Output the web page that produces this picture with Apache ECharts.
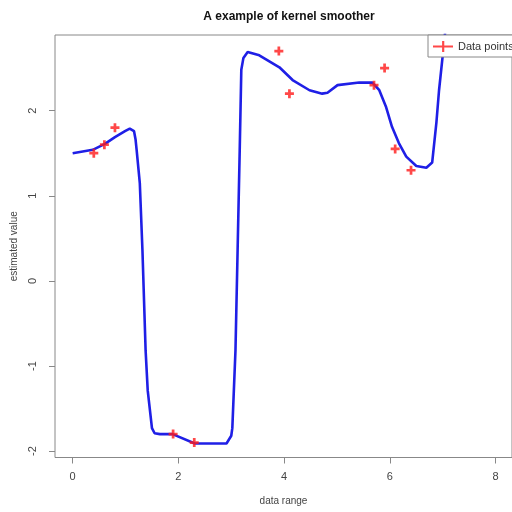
<!DOCTYPE html>
<html>
<head>
<meta charset="utf-8" />
<title>kernel smoother</title>
<script src="https://cdn.jsdelivr.net/npm/echarts@6/dist/echarts.min.js"></script>
<style>
  html, body { margin: 0; padding: 0; background: #fff; }
  #chart { width: 512px; height: 512px; }
</style>
</head>
<body>
<div id="chart"></div>
<script>
// smoothed curve
var curveX = [0, 0.38, 0.61, 0.80, 0.99, 1.08, 1.16, 1.19, 1.21, 1.27, 1.32, 1.38, 1.42, 1.50, 1.55, 1.65, 1.89,
  2.31, 2.91, 3.00, 3.02, 3.08, 3.12, 3.16, 3.19, 3.23, 3.31, 3.53, 3.91, 4.16, 4.48, 4.72, 4.82,
  5.01, 5.42, 5.67, 5.80, 5.93, 6.04, 6.17, 6.31, 6.50, 6.69, 6.80, 6.88, 6.93, 6.99, 7.05];
var curveY = [1.50, 1.54, 1.61, 1.69, 1.76, 1.79, 1.76, 1.66, 1.54, 1.15, 0.36, -0.82, -1.29, -1.73, -1.79, -1.80, -1.80,
  -1.91, -1.91, -1.82, -1.73, -0.81, 0.36, 1.54, 2.48, 2.62, 2.69, 2.65, 2.51, 2.36, 2.24, 2.20, 2.21,
  2.30, 2.33, 2.33, 2.24, 2.04, 1.81, 1.62, 1.46, 1.35, 1.33, 1.39, 1.86, 2.24, 2.59, 2.95];

// observed data points
var pointX = [0.4, 0.6, 0.8, 1.9, 2.3, 3.9, 4.1, 5.7, 5.9, 6.1, 6.4];
var pointY = [1.5, 1.6, 1.8, -1.8, -1.9, 2.7, 2.2, 2.3, 2.5, 1.55, 1.3];

var xTicks = [0, 2, 4, 6, 8];
var yTicks = [-2, -1, 0, 1, 2];

var curve = curveX.map(function (x, i) { return [x, curveY[i]]; });
var points = pointX.map(function (x, i) { return [x, pointY[i]]; });

var crossPath = 'path://M3,0h2.6v8.6h-2.6z M0,3h8.6v2.6h-8.6z';
var legendIcon = 'path://M0,7h22v2h-22z M10,2h2.4v12h-2.4z';

var myChart = echarts.init(document.getElementById('chart'));
var option = {
  animation: false,
  textStyle: { fontFamily: 'Liberation Sans, Arial, sans-serif' },
  title: {
    text: 'A example of kernel smoother',
    left: 284,
    textAlign: 'center',
    top: 6,
    textStyle: { fontSize: 12, fontWeight: 'bold', color: '#111' }
  },
  legend: {
    data: ['Data points'],
    left: 428,
    top: 35,
    padding: [6, 8, 5, 5],
    itemWidth: 20,
    itemHeight: 12,
    itemGap: 8,
    borderColor: '#888',
    borderWidth: 1,
    backgroundColor: '#fff',
    borderRadius: 0,
    textStyle: { fontSize: 11, color: '#333' },
    icon: legendIcon
  },
  grid: {
    left: 55,
    top: 35,
    width: 458,
    height: 422.5,
    show: true,
    borderColor: '#888',
    borderWidth: 1,
    containLabel: false
  },
  xAxis: {
    type: 'value',
    min: -0.334,
    max: 8.31,
    name: 'data range',
    nameLocation: 'middle',
    nameGap: 39,
    nameTextStyle: { fontSize: 10, color: '#444' },
    axisLine: { show: false, onZero: false },
    splitLine: { show: false },
    axisTick: { show: true, inside: false, length: 6, customValues: xTicks, lineStyle: { color: '#888' } },
    axisLabel: { customValues: xTicks, margin: 14, fontSize: 11, color: '#444' }
  },
  yAxis: {
    type: 'value',
    min: -2.075,
    max: 2.889,
    name: 'estimated value',
    nameLocation: 'middle',
    nameGap: 29,
    nameTextStyle: { fontSize: 10, color: '#444' },
    axisLine: { show: false, onZero: false },
    splitLine: { show: false },
    axisTick: { show: true, inside: false, length: 6, customValues: yTicks, lineStyle: { color: '#888' } },
    axisLabel: { customValues: yTicks, rotate: 90, margin: 17, fontSize: 11, color: '#444' }
  },
  series: [
    {
      name: 'smoother',
      type: 'line',
      data: curve,
      showSymbol: false,
      smooth: false,
      clip: true,
      lineStyle: { color: '#1f1fe6', width: 2.6 },
      z: 2
    },
    {
      name: 'Data points',
      type: 'scatter',
      data: points,
      symbol: crossPath,
      symbolSize: 9,
      itemStyle: { color: '#ff1a1a' },
      z: 3
    }
  ]
};
myChart.setOption(option);
</script>
</body>
</html>
